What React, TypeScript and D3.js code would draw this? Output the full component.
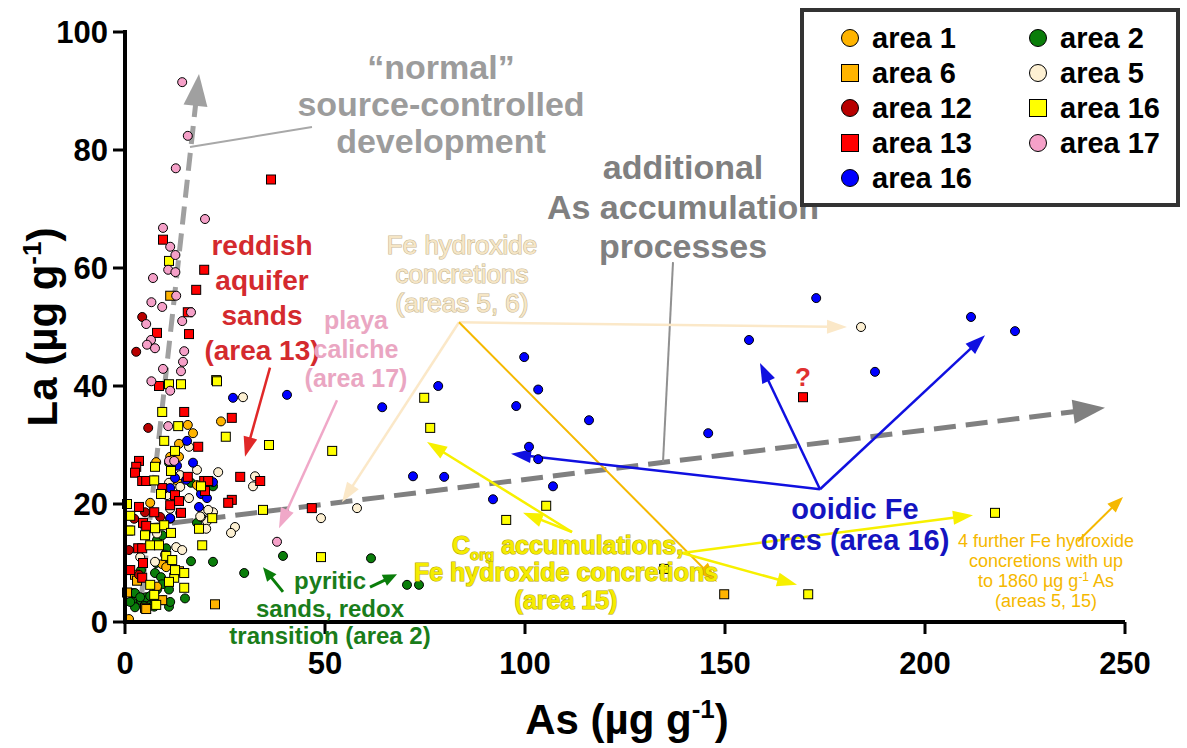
import React from "react";
import * as d3 from "d3";

// [As, La] pairs in µg/g
const area1 = [[15.7,33.4],[17,32],[24,34],[13.5,30.2],[11.3,28],[13.5,28],[7.8,27.1],[6.3,20.2],[18,23.2],[9.3,9.8],[10.3,9.3],[13,24],[1,0.5],[8,6],[12.8,20.5]];
const area6 = [[11.3,55.3],[22.5,3],[149.8,4.7],[13.5,8.6],[2.5,8],[3,7],[5,2.4],[9.3,3.7],[5.3,2.2],[0.5,5]];
const area12 = [[4.3,51.7],[2.8,45.8],[5.8,32.9],[2.3,17.5],[5,18.6],[1,12.2],[3.5,8],[8.8,17.8],[11.3,17.5]];
const area13 = [[9.5,64.8],[19.8,59.7],[17.8,56.3],[15.7,52.5],[8,49],[16,48.8],[8.5,40],[36.5,75],[14.8,35.6],[26.7,34.6],[18.3,29.7],[28.8,24.6],[33.8,23.9],[19.8,23.9],[20.8,23.9],[15.7,24.6],[26.7,20.7],[25.8,20.2],[20,22.2],[46.7,19.3],[3.5,27.3],[2.8,26.3],[2.5,25.3],[4.3,23.9],[5.3,23.9],[9.3,22.7],[3.5,19.5],[7.3,18.6],[4.5,16.8],[5.3,16.3],[3.3,12.5],[4.3,12.5],[4.5,10],[4.3,7.5],[1.3,8.8],[11.3,19.8],[169.5,38.1],[12.5,21.5],[14,18.5],[13.5,20.5],[0.8,15.5]];
const area16c = [[15.5,30.7],[17,27],[15.3,24.1],[12.5,24.4],[11.3,22.7],[22,23.7],[19,21.7],[20.5,21],[18.5,19.5],[11.3,17.6],[27,38],[40.5,38.5],[64.3,36.4],[99.8,44.9],[78.3,40],[103.3,39.4],[97.8,36.6],[116,34.2],[101,29.7],[103.3,27.6],[72,24.7],[79.8,24.6],[107,23],[92,20.8],[172.8,54.9],[156,47.8],[211.5,51.7],[222.5,49.3],[187.5,42.4],[145.8,32],[13,26.5]];
const area2 = [[2,4.9],[1.8,3.4],[4,3.7],[5.3,4.2],[6.3,2.8],[7.3,2.6],[8,5.5],[9.5,3.7],[11,2.6],[11,5.5],[16.5,23.6],[22,23],[15,4],[8,13.9],[9.3,14.7],[11,27],[16.5,10.3],[22,10.2],[29.8,8.3],[18,16.8],[39.5,11.2],[61.5,10.8],[70.5,6.3],[73.5,6.3],[4,8.8],[7.5,8.3],[9,7.6],[10.3,9.5],[10.3,12.5],[7.8,10],[9.3,6.4],[2.5,4.9],[3.8,4.2],[6.3,4.4],[7.5,3.5],[11.3,3.4],[2.5,2.5],[4.8,2.7],[1.3,3.4]];
const area5 = [[16,29.7],[18,25.8],[23.3,25.4],[32.5,24.7],[32,23],[19.5,18.6],[20.5,17.1],[22,18.6],[19,17.8],[27.5,16.1],[26.5,15.1],[29.5,38.1],[49,17.6],[58,19.3],[184,50],[13.8,24.9],[13.8,22.9],[13.8,18.5],[11,23.6],[9.8,22.4],[11.3,19.2],[8,15],[12.8,12.7],[14.3,12.2],[3.8,11],[7.5,10.2],[10,11.4],[18.8,17.9],[20.8,19],[20.3,15.8],[16,21],[10.5,21.5]];
const area16s = [[74.8,38],[76.3,32.9],[105.3,19.7],[95.3,17.3],[134.8,9],[217.5,18.5],[170.8,4.7],[22.8,41],[25.2,31.4],[36,30],[51.8,29],[34.5,19],[49,11],[18.5,15.8],[19.3,13],[21.8,17.6],[11,61.2],[11,40.3],[14,40.3],[23,40.8],[9.3,35.6],[13.3,33.2],[9.8,30.7],[12.5,29],[7.5,26.3],[11.5,25.6],[7.3,24],[9,21.7],[5,14.7],[7.5,15.9],[9.8,16.4],[11.5,15.1],[6.3,13],[8.5,13],[10.3,11.2],[1.3,15.5],[12.3,7.5],[11,6.8],[14.8,5.8],[6.3,6.3],[7.3,4.6],[7.8,2.9],[11.8,10.5],[12.5,8.8],[14.8,8.3],[1.3,18],[0.5,20],[19,23]];
const area17 = [[14.3,91.5],[15.7,82.4],[12.7,76.9],[20,68.3],[9.5,66.8],[11.3,63.6],[12.6,62.2],[10.8,59.7],[12.6,59.3],[7,58.3],[12.8,55.3],[6.6,54.2],[9.3,53.4],[16.5,52.5],[5.3,50.5],[14.3,51],[6.5,47.8],[5.5,47],[7.5,46.4],[14.8,45.9],[14.5,44.1],[14,42.5],[9.5,42.9],[6.6,40.8],[11.3,39.2],[38,13.6],[10.8,33.2],[11,27.3],[12.3,27.3]];

const xTicks = [0, 50, 100, 150, 200, 250];
const yTicks = [0, 20, 40, 60, 80, 100];

const series = [
  { name: "area 2", data: area2, shape: "circle", fill: "#0a7d0a" },
  { name: "area 1", data: area1, shape: "circle", fill: "#ffb400" },
  { name: "area 6", data: area6, shape: "square", fill: "#ffb400" },
  { name: "area 5", data: area5, shape: "circle", fill: "#fdf0d2" },
  { name: "area 12", data: area12, shape: "circle", fill: "#b80000" },
  { name: "area 16", data: area16c, shape: "circle", fill: "#0000ff" },
  { name: "area 13", data: area13, shape: "square", fill: "#ff0000" },
  { name: "area 16", data: area16s, shape: "square", fill: "#ffff00" },
  { name: "area 17", data: area17, shape: "circle", fill: "#f5a0c8" },
];

const legendItems = [
  { name: "area 1", shape: "circle", fill: "#ffb400", col: 0, row: 0 },
  { name: "area 6", shape: "square", fill: "#ffb400", col: 0, row: 1 },
  { name: "area 12", shape: "circle", fill: "#b80000", col: 0, row: 2 },
  { name: "area 13", shape: "square", fill: "#ff0000", col: 0, row: 3 },
  { name: "area 16", shape: "circle", fill: "#0000ff", col: 0, row: 4 },
  { name: "area 2", shape: "circle", fill: "#0a7d0a", col: 1, row: 0 },
  { name: "area 5", shape: "circle", fill: "#fdf0d2", col: 1, row: 1 },
  { name: "area 16", shape: "square", fill: "#ffff00", col: 1, row: 2 },
  { name: "area 17", shape: "circle", fill: "#f5a0c8", col: 1, row: 3 },
];

const FONT = "'Liberation Sans', Arial, Helvetica, sans-serif";

const x = d3.scaleLinear().domain([0, 250]).range([125, 1125]);
const y = d3.scaleLinear().domain([0, 100]).range([622, 32]);

// arrow from data point a to data point b
function Arrow({ a, b, color, width = 2, head = 14, headW = 10, dash, tip = true }) {
  const x1 = x(a[0]), y1 = y(a[1]), x2 = x(b[0]), y2 = y(b[1]);
  const ang = Math.atan2(y2 - y1, x2 - x1);
  const ex = tip ? x2 - Math.cos(ang) * head * 0.8 : x2;
  const ey = tip ? y2 - Math.sin(ang) * head * 0.8 : y2;
  const bx = x2 - Math.cos(ang) * head, by = y2 - Math.sin(ang) * head;
  const px = -Math.sin(ang) * headW / 2, py = Math.cos(ang) * headW / 2;
  return (
    <g>
      <line x1={x1} y1={y1} x2={ex} y2={ey} stroke={color} strokeWidth={width} strokeDasharray={dash} />
      {tip && <polygon points={`${x2},${y2} ${bx + px},${by + py} ${bx - px},${by - py}`} fill={color} />}
    </g>
  );
}

function Marker({ cx, cy, shape, fill, size }) {
  if (shape === "square")
    return <rect x={cx - size} y={cy - size} width={size * 2} height={size * 2} fill={fill} stroke="#000" strokeWidth={1} />;
  return <circle cx={cx} cy={cy} r={size} fill={fill} stroke="#000" strokeWidth={1} />;
}

function Lines({ lines, x0, y0, dy, size, fill, weight = "bold", stroke, anchor = "middle" }) {
  return (
    <text x={x0} y={y0} fontSize={size} fontWeight={weight} fill={fill} textAnchor={anchor}
      stroke={stroke} strokeWidth={stroke ? 1.2 : 0} paintOrder="stroke" style={{ fontFamily: FONT }}>
      {lines.map((l, i) => (
        <tspan key={i} x={x0} dy={i === 0 ? 0 : dy}>{l}</tspan>
      ))}
    </text>
  );
}

export default function App() {
  return (
    <div style={{ position: "absolute", left: 0, top: 0 }}>
      <svg width={1187} height={748} style={{ display: "block", fontFamily: FONT }}>
        <rect width={1187} height={748} fill="#fff" />

        {/* grey trend arrows */}
        <Arrow a={[4, 3.7]} b={[18.5, 92.9]} color="#a0a0a0" width={5} head={32} headW={24} dash="18 9" />
        <Arrow a={[3.75, 16.1]} b={[245, 36.3]} color="#808080" width={5} head={32} headW={24} dash="22 10" />
        <Arrow a={[46.75, 83.9]} b={[16.25, 80.5]} color="#a8a8a8" width={2} tip={false} />
        <Arrow a={[137, 61]} b={[134.5, 27.1]} color="#909090" width={2} tip={false} />

        {/* coloured annotation arrows */}
        <Arrow a={[83.5, 50.8]} b={[54.25, 20.3]} color="#fbe8c8" width={2.5} head={20} headW={14} />
        <Arrow a={[83.5, 50.8]} b={[180.5, 50]} color="#fbe8c8" width={2.5} head={20} headW={14} />
        <Arrow a={[83.5, 50.8]} b={[148, 6.8]} color="#f5b800" width={2} head={20} headW={14} />
        <Arrow a={[111.75, 15.25]} b={[75.5, 30.5]} color="#f7f000" width={2.5} head={20} headW={14} />
        <Arrow a={[111.75, 15.25]} b={[99.5, 18.5]} color="#f7f000" width={2.5} head={20} headW={14} />
        <Arrow a={[139.25, 11.7]} b={[212, 18.1]} color="#f7f000" width={2.5} head={20} headW={14} />
        <Arrow a={[139.25, 11.7]} b={[168, 6.3]} color="#f7f000" width={2.5} head={20} headW={14} />
        <Arrow a={[173.75, 22.5]} b={[158.75, 43.9]} color="#1010e0" width={2.5} head={20} headW={14} />
        <Arrow a={[173.75, 22.5]} b={[215, 48.6]} color="#1010e0" width={2.5} head={20} headW={14} />
        <Arrow a={[173.75, 22.5]} b={[96.5, 28.5]} color="#1010e0" width={2.5} head={20} headW={14} />
        <Arrow a={[36.25, 43.1]} b={[30, 28]} color="#e02828" width={2.5} head={20} headW={14} />
        <Arrow a={[53, 37.6]} b={[38.5, 15.9]} color="#f0a8c8" width={2.5} head={20} headW={14} />
        <Arrow a={[39.5, 5.1]} b={[34.5, 9.3]} color="#0a7d0a" width={3} head={14} headW={12} />
        <Arrow a={[61.25, 5.9]} b={[68, 8.1]} color="#0a7d0a" width={3} head={14} headW={12} />
        <Arrow a={[238.25, 13.7]} b={[249.5, 21.2]} color="#f5b800" width={2} head={16} headW={12} />

        {/* data points */}
        {series.map((s, i) => (
          <g key={i}>
            {s.data.map((d, j) => (
              <Marker key={j} cx={x(d[0])} cy={y(d[1])} shape={s.shape} fill={s.fill} size={4.5} />
            ))}
          </g>
        ))}

        {/* axes */}
        <line x1={x(0) - 2} x2={x(250)} y1={y(0)} y2={y(0)} stroke="#000" strokeWidth={4} />
        <line x1={x(0)} x2={x(0)} y1={y(0) + 2} y2={y(100) - 2} stroke="#000" strokeWidth={4} />
        {yTicks.map((t) => (
          <g key={"y" + t}>
            <line x1={x(0) - 12} x2={x(0)} y1={y(t)} y2={y(t)} stroke="#000" strokeWidth={3} />
            <text x={x(0) - 17} y={y(t)} dy="0.36em" textAnchor="end" fontSize={31} fontWeight="bold">{t}</text>
          </g>
        ))}
        {xTicks.map((t) => (
          <g key={"x" + t}>
            <line x1={x(t)} x2={x(t)} y1={y(0)} y2={y(0) + 12} stroke="#000" strokeWidth={3} />
            <text x={x(t)} y={y(0) + 52} textAnchor="middle" fontSize={31} fontWeight="bold">{t}</text>
          </g>
        ))}
        <text x={627} y={734} textAnchor="middle" fontSize={42} fontWeight="bold">
          As (µg g<tspan fontSize={26} dy={-16}>-1</tspan><tspan dy={16}>)</tspan>
        </text>
        <text transform="translate(57,327) rotate(-90)" textAnchor="middle" fontSize={42} fontWeight="bold">
          La (µg g<tspan fontSize={26} dy={-16}>-1</tspan><tspan dy={16}>)</tspan>
        </text>

        {/* annotation texts */}
        <Lines lines={["“normal”", "source-controlled", "development"]} x0={441} y0={79} dy={37} size={34} fill="#9c9c9c" />
        <Lines lines={["additional", "As accumulation", "processes"]} x0={683} y0={179} dy={39.5} size={34} fill="#808080" />
        <Lines lines={["reddish", "aquifer", "sands", "(area 13)"]} x0={262} y0={255} dy={35} size={28} fill="#d42a2e" />
        <Lines lines={["playa", "caliche", "(area 17)"]} x0={356} y0={329} dy={29} size={25} fill="#eaa6c2" />
        <Lines lines={["Fe hydroxide", "concretions", "(areas 5, 6)"]} x0={462} y0={254} dy={29} size={26} fill="#f6e6c6" stroke="#c8b894" weight="normal" />
        <Lines lines={["ooidic Fe", "ores (area 16)"]} x0={855} y0={519} dy={31} size={29} fill="#1414c0" />
        <Lines lines={["pyritic", "sands, redox", "transition (area 2)"]} x0={330} y0={589} dy={27.5} size={24} fill="#1a7d1a" />
        <text x={452} y={554} fontSize={25} fontWeight="bold" fill="#f5ec00" stroke="#b8a800" strokeWidth={1.2} paintOrder="stroke">
          C<tspan fontSize={15} dy={6}>org</tspan><tspan dy={-6}> accumulations,</tspan>
        </text>
        <Lines lines={["Fe hydroxide concretions", "(area 15)"]} x0={566} y0={581} dy={28} size={25} fill="#f5ec00" stroke="#b8a800" />
        <text x={1046} y={547} textAnchor="middle" fontSize={18} fill="#f5b800">
          <tspan x={1046}>4 further Fe hydroxide</tspan>
          <tspan x={1046} dy={20}>concretions with up</tspan>
          <tspan x={1046} dy={20}>to 1860 µg g<tspan fontSize={12} dy={-6}>-1</tspan><tspan dy={6}> As</tspan></tspan>
          <tspan x={1046} dy={20}>(areas 5, 15)</tspan>
        </text>
        <text x={803} y={386} textAnchor="middle" fontSize={26} fontWeight="bold" fill="#e03030">?</text>

        {/* legend */}
        <rect x={802} y={10} width={376} height={195} fill="#fff" stroke="#333" strokeWidth={4} />
        {legendItems.map((l, i) => {
          const cx = l.col === 0 ? 850 : 1038;
          const cy = 38 + l.row * 35;
          return (
            <g key={i}>
              <Marker cx={cx} cy={cy} shape={l.shape} fill={l.fill} size={8.5} />
              <text x={cx + 22} y={cy} dy="0.36em" fontSize={29} fontWeight="bold">{l.name}</text>
            </g>
          );
        })}
      </svg>
    </div>
  );
}
